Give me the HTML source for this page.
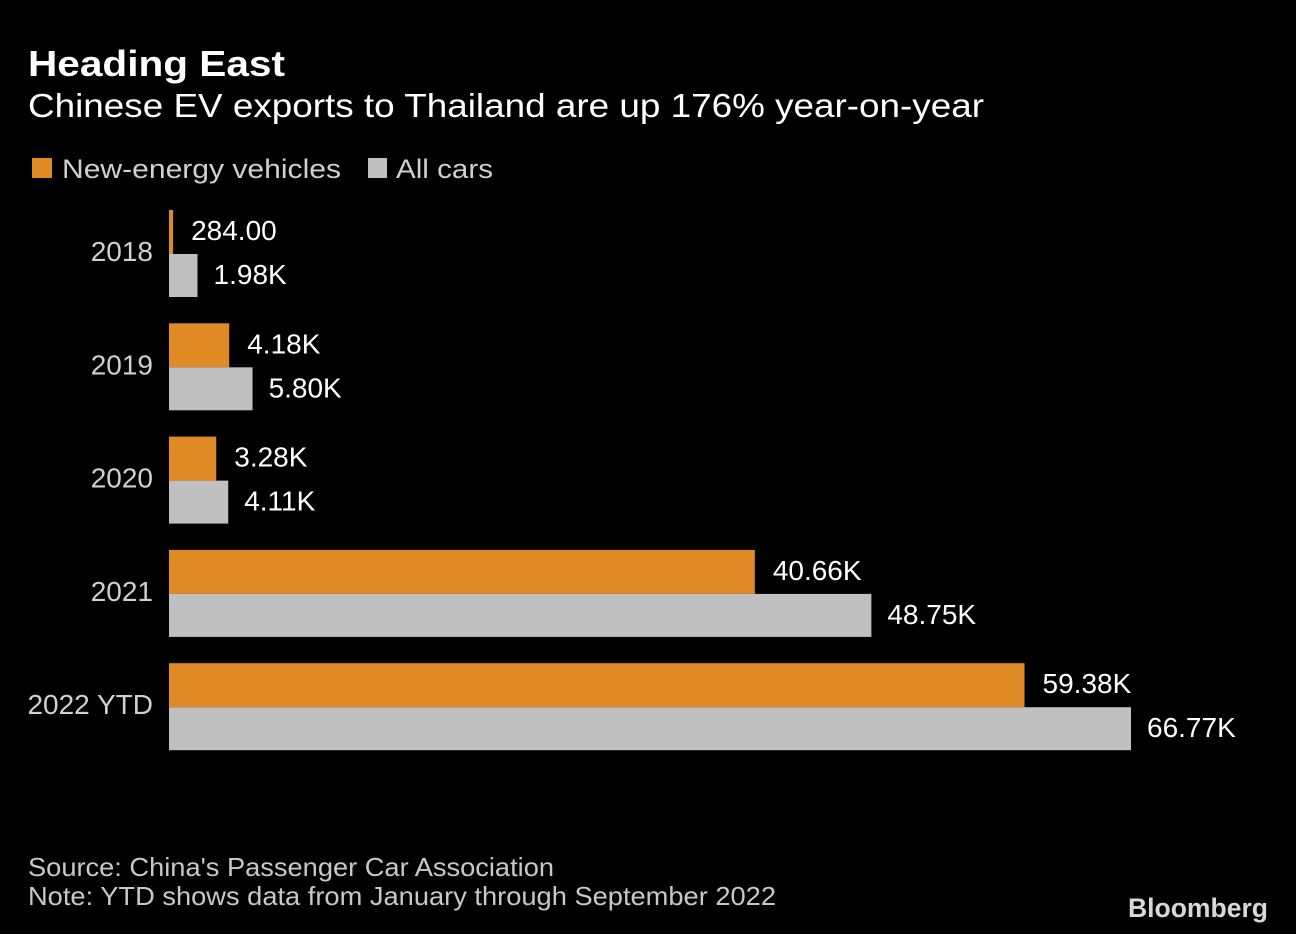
<!DOCTYPE html>
<html><head><meta charset="utf-8"><style>
html,body{margin:0;padding:0;background:#000;}
svg{display:block;font-family:"Liberation Sans Narrow","Liberation Sans",sans-serif;}
</style></head><body>
<svg id="chart" width="1296" height="934" viewBox="0 0 1296 934">
<rect width="1296" height="934" fill="#000"/>
<text x="28" y="76" font-size="36" font-weight="bold" fill="#fff" textLength="257" lengthAdjust="spacingAndGlyphs" font-family="Liberation Sans">Heading East</text>
<text x="28" y="117" font-size="33" fill="#fff" textLength="956" lengthAdjust="spacingAndGlyphs">Chinese EV exports to Thailand are up 176% year-on-year</text>
<g>
<rect x="32" y="158" width="20" height="20" fill="#e08a25"/>
<text x="62" y="178" font-size="27" fill="#d0d0d0" textLength="279" lengthAdjust="spacingAndGlyphs">New-energy vehicles</text>
<rect x="368" y="158" width="19" height="20" fill="#c0c0c0"/>
<text x="396" y="178" font-size="27" fill="#d0d0d0" textLength="97" lengthAdjust="spacingAndGlyphs">All cars</text>
</g>
<g id="bars"></g>
<text x="28" y="876" font-size="26" fill="#c8c8c8" textLength="526" lengthAdjust="spacingAndGlyphs">Source: China's Passenger Car Association</text>
<text x="28" y="905" font-size="26" fill="#c8c8c8" textLength="748" lengthAdjust="spacingAndGlyphs">Note: YTD shows data from January through September 2022</text>
<text x="1128" y="917" font-size="27" font-weight="bold" fill="#d8d8d8" textLength="140" lengthAdjust="spacingAndGlyphs" font-family="Liberation Sans">Bloomberg</text>
</svg>
<script>
const categories = ["2018","2019","2020","2021","2022 YTD"];
const nevValues = [284,4180,3280,40660,59380];
const allValues = [1980,5800,4110,48750,66770];
const nevLabels = ["284.00","4.18K","3.28K","40.66K","59.38K"];
const allLabels = ["1.98K","5.80K","4.11K","48.75K","66.77K"];

const NS="http://www.w3.org/2000/svg";
const g=document.getElementById('bars');
const x0=169, scale=962/66770;
function xs(v){return v*scale;}
function yTop(i){return 210+i*113.3;}
const bh=44;
function mk(tag,attrs){const e=document.createElementNS(NS,tag);for(const k in attrs)e.setAttribute(k,attrs[k]);g.appendChild(e);return e;}
categories.forEach((c,i)=>{
  const y=yTop(i);
  const t=mk('text',{x:153,y:y+bh+7,'font-size':28,fill:'#d0d0d0','text-anchor':'end'});
  t.textContent=c;
  
  
  const b1=mk('rect',{x:x0,y:y,width:Math.max(xs(nevValues[i]),2),height:bh,fill:'#e08a25'});
  
  
  const b2=mk('rect',{x:x0,y:y+bh,width:xs(allValues[i]),height:bh-1,fill:'#c0c0c0'});
  
  
  const l1=mk('text',{x:x0+Math.max(xs(nevValues[i]),2)+18,y:y+bh/2+8,'font-size':28,fill:'#fff'});
  l1.textContent=nevLabels[i];
  
  
  const l2=mk('text',{x:x0+xs(allValues[i])+16,y:y+bh+bh/2+8,'font-size':28,fill:'#fff'});
  l2.textContent=allLabels[i];
  
  
});
</script>
</body></html>
